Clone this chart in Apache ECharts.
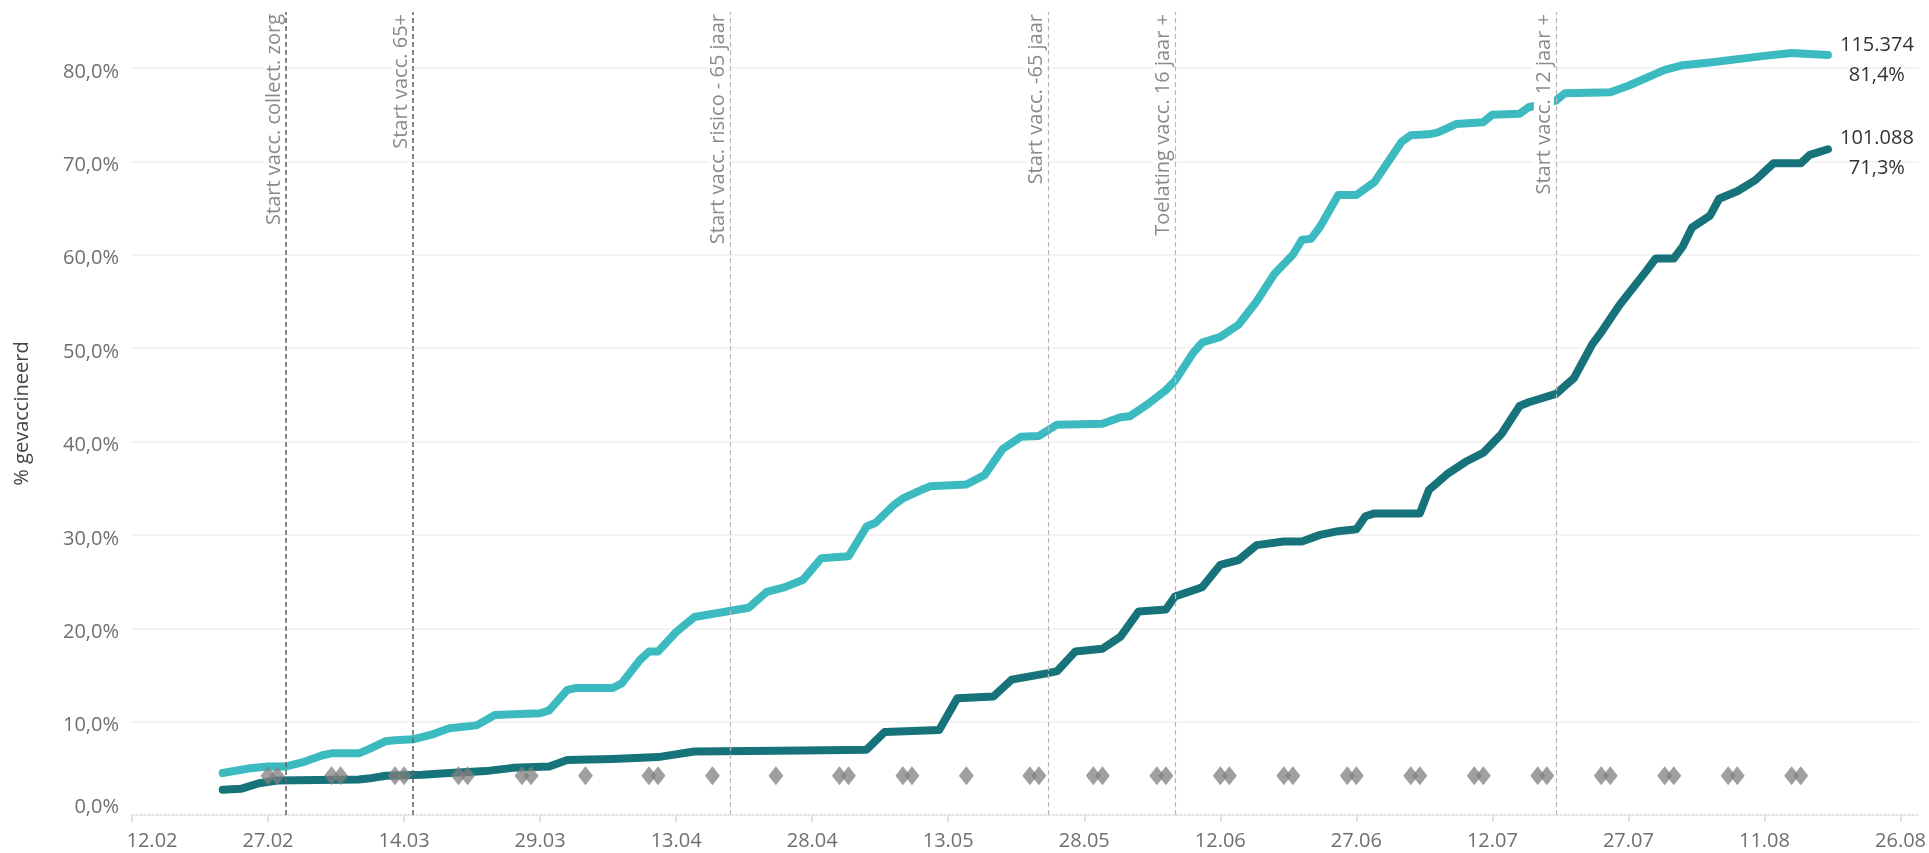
<!DOCTYPE html>
<html><head><meta charset="utf-8">
<script src="https://cdn.jsdelivr.net/npm/echarts@6/dist/echarts.min.js"></script>
<style>html,body{margin:0;padding:0;background:#fff}#c{width:1929px;height:853px}</style>
</head><body><div id="c"></div>
<script>
const startDate = '2021-02-12';
const axisEndDate = '2021-08-28';
const xTickLabels = ['12.02','27.02','14.03','29.03','13.04','28.04','13.05','28.05','12.06','27.06','12.07','27.07','11.08','26.08'];
const yTickLabels = ['0,0%','10,0%','20,0%','30,0%','40,0%','50,0%','60,0%','70,0%','80,0%'];
const yAxisTitle = '% gevaccineerd';

const lightDates = ['2021-02-22','2021-02-25','2021-02-27','2021-03-01','2021-03-03','2021-03-05','2021-03-06','2021-03-09','2021-03-10','2021-03-12','2021-03-13','2021-03-15','2021-03-17','2021-03-19','2021-03-22','2021-03-24','2021-03-29','2021-03-30','2021-04-01','2021-04-02','2021-04-06','2021-04-07','2021-04-09','2021-04-10','2021-04-11','2021-04-13','2021-04-15','2021-04-21','2021-04-23','2021-04-25','2021-04-27','2021-04-29','2021-05-02','2021-05-04','2021-05-05','2021-05-07','2021-05-08','2021-05-10','2021-05-11','2021-05-15','2021-05-17','2021-05-19','2021-05-21','2021-05-23','2021-05-25','2021-05-30','2021-06-01','2021-06-02','2021-06-04','2021-06-06','2021-06-07','2021-06-09','2021-06-10','2021-06-12','2021-06-14','2021-06-16','2021-06-18','2021-06-20','2021-06-21','2021-06-22','2021-06-23','2021-06-25','2021-06-27','2021-06-29','2021-07-02','2021-07-03','2021-07-05','2021-07-06','2021-07-08','2021-07-11','2021-07-12','2021-07-15','2021-07-16','2021-07-19','2021-07-20','2021-07-25','2021-07-27','2021-07-31','2021-08-02','2021-08-05','2021-08-11','2021-08-14','2021-08-18'];
const lightValues = [4.5,5.0,5.2,5.2,5.7,6.4,6.6,6.6,7.0,7.9,8.0,8.1,8.6,9.3,9.6,10.7,10.9,11.2,13.4,13.6,13.6,14.1,16.6,17.5,17.5,19.6,21.2,22.2,23.9,24.4,25.2,27.5,27.7,30.9,31.3,33.2,33.9,34.8,35.2,35.4,36.4,39.2,40.5,40.6,41.8,41.9,42.6,42.7,44.0,45.5,46.5,49.5,50.6,51.2,52.5,55.0,58.0,60.0,61.6,61.7,63.0,66.4,66.4,67.8,72.1,72.8,72.9,73.1,74.0,74.2,75.0,75.1,75.8,76.5,77.3,77.4,78.1,79.8,80.3,80.6,81.3,81.6,81.4];

const darkDates = ['2021-02-22','2021-02-24','2021-02-26','2021-02-28','2021-03-09','2021-03-10','2021-03-12','2021-03-16','2021-03-19','2021-03-23','2021-03-26','2021-03-30','2021-04-01','2021-04-06','2021-04-11','2021-04-15','2021-04-27','2021-05-04','2021-05-06','2021-05-12','2021-05-14','2021-05-18','2021-05-20','2021-05-24','2021-05-25','2021-05-27','2021-05-30','2021-06-01','2021-06-03','2021-06-06','2021-06-07','2021-06-10','2021-06-12','2021-06-14','2021-06-16','2021-06-19','2021-06-21','2021-06-23','2021-06-25','2021-06-27','2021-06-28','2021-06-29','2021-07-04','2021-07-05','2021-07-07','2021-07-09','2021-07-11','2021-07-12','2021-07-13','2021-07-15','2021-07-16','2021-07-17','2021-07-19','2021-07-21','2021-07-23','2021-07-24','2021-07-26','2021-07-29','2021-07-30','2021-08-01','2021-08-02','2021-08-03','2021-08-05','2021-08-06','2021-08-08','2021-08-10','2021-08-12','2021-08-15','2021-08-16','2021-08-18'];
const darkValues = [2.7,2.8,3.4,3.7,3.8,3.9,4.2,4.3,4.5,4.7,5.05,5.2,5.9,6.0,6.2,6.8,6.9,7.0,8.9,9.1,12.5,12.7,14.5,15.2,15.4,17.5,17.8,19.1,21.8,22.0,23.4,24.4,26.8,27.3,28.9,29.3,29.3,30.0,30.4,30.6,32.0,32.3,32.3,34.8,36.5,37.8,38.8,39.8,40.8,43.8,44.2,44.5,45.1,46.8,50.4,51.7,54.6,58.3,59.6,59.6,60.9,62.9,64.2,66.0,66.8,68.0,69.8,69.8,70.7,71.3];

const weekendDates = ['2021-02-27','2021-02-28','2021-03-06','2021-03-07','2021-03-13','2021-03-14','2021-03-20','2021-03-21','2021-03-27','2021-03-28','2021-04-03','2021-04-10','2021-04-11','2021-04-17','2021-04-24','2021-05-01','2021-05-02','2021-05-08','2021-05-09','2021-05-15','2021-05-22','2021-05-23','2021-05-29','2021-05-30','2021-06-05','2021-06-06','2021-06-12','2021-06-13','2021-06-19','2021-06-20','2021-06-26','2021-06-27','2021-07-03','2021-07-04','2021-07-10','2021-07-11','2021-07-17','2021-07-18','2021-07-24','2021-07-25','2021-07-31','2021-08-01','2021-08-07','2021-08-08','2021-08-14','2021-08-15'];
const weekendLevel = 4.2;

const eventDates = ['2021-03-01','2021-03-15','2021-04-19','2021-05-24','2021-06-07','2021-07-19'];
const eventLabels = ['Start vacc. collect. zorg','Start vacc. 65+','Start vacc. risico - 65 jaar','Start vacc. -65 jaar','Toelating vacc. 16 jaar +','Start vacc. 12 jaar +'];

const fadedFrom = '2021-07-16';
const fadedTo = '2021-07-19';

const endCounts = ['115.374','101.088'];
const endPercents = ['81,4%','71,3%'];

const LIGHT = '#3bbac0';
const DARK = '#17737a';
const FONT = 'Open Sans';

function dayNum(s){
  const p = s.split('-').map(Number);
  const q = startDate.split('-').map(Number);
  return Math.round((Date.UTC(p[0],p[1]-1,p[2]) - Date.UTC(q[0],q[1]-1,q[2]))/86400000);
}
const lightData = lightDates.map((d,i)=>[dayNum(d), lightValues[i]]);
const darkData = darkDates.map((d,i)=>[dayNum(d), darkValues[i]]);
const weekendData = weekendDates.map(d=>[dayNum(d), weekendLevel]);
const xTickValues = xTickLabels.map((_,i)=>i*15);
const yTickValues = yTickLabels.map((_,i)=>i*10);

function endLabel(i, dy){
  return {
    show: true,
    formatter: '{c|' + endCounts[i] + '}\n{p|' + endPercents[i] + '}',
    distance: 12,
    offset: [0, dy],
    rich: {
      c: {fontSize: 20, color: '#333', fontFamily: FONT, align: 'center', lineHeight: 30},
      p: {fontSize: 20, color: '#333', fontFamily: FONT, align: 'center', lineHeight: 30}
    }
  };
}

const chart = echarts.init(document.getElementById('c'), null, {renderer: 'canvas'});
chart.setOption({
  animation: false,
  backgroundColor: '#fff',
  grid: {left: 132, right: 1, top: 12, bottom: 38, containLabel: false},
  xAxis: {
    type: 'value', min: 0, max: dayNum(axisEndDate), interval: 15,
    axisLine: {show: true, lineStyle: {color: '#d9d9d9', type: [2,2], width: 1.5}},
    axisTick: {show: true, length: 7, lineStyle: {color: '#d9d9d9', width: 1.5}, customValues: xTickValues},
    splitLine: {show: false},
    axisLabel: {
      customValues: xTickValues,
      margin: 16, color: '#6f6f6f', fontSize: 20, fontFamily: FONT,
      formatter: function(v){
        const i = Math.round(v/15);
        if (v % 15 !== 0 || !xTickLabels[i]) return '';
        return i === 0 ? '{f|' + xTickLabels[i] + '}' : xTickLabels[i];
      },
      rich: {f: {fontSize: 20, color: '#6f6f6f', fontFamily: FONT, padding: [0,0,0,40]}}
    }
  },
  yAxis: {
    type: 'value', min: 0, max: 86, interval: 10,
    name: yAxisTitle, nameLocation: 'middle', nameGap: 100,
    nameTextStyle: {fontSize: 20, color: '#444', fontFamily: FONT},
    axisLine: {show: false}, axisTick: {show: false},
    splitLine: {show: true, showMinLine: false, showMaxLine: false, lineStyle: {color: '#efefef', width: 1.5}},
    axisLabel: {
      customValues: yTickValues,
      margin: 13, color: '#6f6f6f', fontSize: 20, fontFamily: FONT,
      formatter: function(v){
        const i = Math.round(v/10);
        if (v % 10 !== 0 || !yTickLabels[i]) return '';
        return i === 0 ? '{z|' + yTickLabels[i] + '}' : '{n|' + yTickLabels[i] + '}';
      },
      rich: {
        z: {fontSize: 20, color: '#6f6f6f', fontFamily: FONT, padding: [0,0,16,0]},
        n: {fontSize: 20, color: '#6f6f6f', fontFamily: FONT, padding: [8,0,0,0]}
      }
    }
  },
  visualMap: {
    type: 'piecewise', show: false, dimension: 0, seriesIndex: 1,
    pieces: [
      {lt: dayNum(fadedFrom), color: LIGHT},
      {gte: dayNum(fadedFrom), lte: dayNum(fadedTo), color: '#c4e8ea'},
      {gt: dayNum(fadedTo), color: LIGHT}
    ]
  },
  series: [
    {
      type: 'line', data: [], z: 1, silent: true,
      markLine: {
        silent: true, symbol: ['none','none'], animation: false,
        label: {show: true, position: 'insideEndTop', color: '#8a8a8a', fontSize: 20, fontFamily: FONT, distance: 2, backgroundColor: '#fff'},
        data: eventDates.map((d,i)=>({
          xAxis: dayNum(d),
          lineStyle: {color: i < 2 ? '#6a6a6a' : '#b8b8b8', type: [5,3], width: i < 2 ? 1.6 : 1.2},
          label: {formatter: eventLabels[i]}
        }))
      }
    },
    {
      type: 'line', data: lightData, showSymbol: false, symbol: 'none', z: 3,
      lineStyle: {color: LIGHT, width: 8, cap: 'round', join: 'round'},
      itemStyle: {color: LIGHT},
      endLabel: endLabel(0, 5)
    },
    {
      type: 'line', data: darkData, showSymbol: false, symbol: 'none', z: 3,
      lineStyle: {color: DARK, width: 8, cap: 'round', join: 'round'},
      itemStyle: {color: DARK},
      endLabel: endLabel(1, 4)
    },
    {
      type: 'scatter', data: weekendData, symbol: 'diamond', symbolSize: [15, 19], z: 4,
      itemStyle: {color: '#7f7f7f', opacity: 0.75}
    }
  ]
});
</script>
</body></html>
